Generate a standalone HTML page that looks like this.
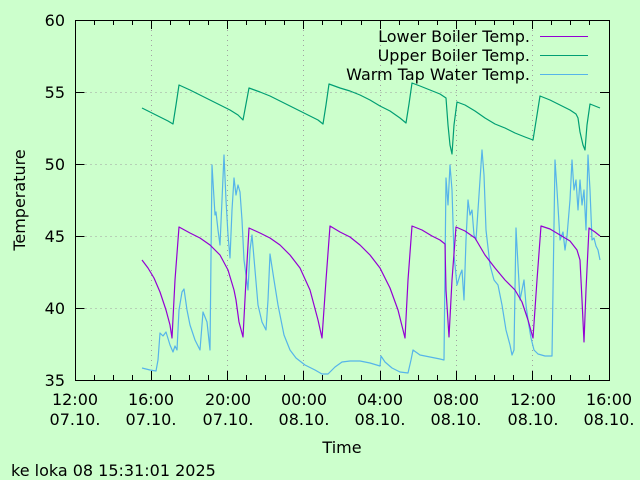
<!DOCTYPE html>
<html><head><meta charset="utf-8"><style>
html,body{margin:0;padding:0;background:#ccffcc;}
svg{display:block;font-family:"DejaVu Sans","Liberation Sans",sans-serif;}
</style></head><body>
<svg width="640" height="480" viewBox="0 0 640 480">
<rect width="640" height="480" fill="#ccffcc"/>
<g stroke="#a0a0a0" stroke-width="1" stroke-dasharray="1,4" fill="none">
<path d="M75.5 92.5H609M75.5 164.5H609M75.5 236.5H609M75.5 308.5H609"/>
<path d="M151.5 20V380M227.5 20V380M303.5 20V380M380.5 20V380M456.5 20V380M532.5 20V380"/>
</g>
<g stroke="#000" stroke-width="1" fill="none">
<rect x="75.5" y="20.5" width="534" height="360"/>
<path d="M75.5 92.5h9M75.5 164.5h9M75.5 236.5h9M75.5 308.5h9M609 92.5h-9M609 164.5h-9M609 236.5h-9M609 308.5h-9"/>
<path d="M151.5 380v-9M227.5 380v-9M303.5 380v-9M380.5 380v-9M456.5 380v-9M532.5 380v-9M151.5 20v9M227.5 20v9M303.5 20v9M380.5 20v9M456.5 20v9M532.5 20v9"/>
<path d="M94.5 380v-5M113.5 380v-5M132.5 380v-5M170.5 380v-5M189.5 380v-5M208.5 380v-5M246.5 380v-5M265.5 380v-5M284.5 380v-5M322.5 380v-5M341.5 380v-5M361.5 380v-5M399.5 380v-5M418.5 380v-5M437.5 380v-5M475.5 380v-5M494.5 380v-5M513.5 380v-5M551.5 380v-5M570.5 380v-5M589.5 380v-5
M94.5 20v5M113.5 20v5M132.5 20v5M170.5 20v5M189.5 20v5M208.5 20v5M246.5 20v5M265.5 20v5M284.5 20v5M322.5 20v5M341.5 20v5M361.5 20v5M399.5 20v5M418.5 20v5M437.5 20v5M475.5 20v5M494.5 20v5M513.5 20v5M551.5 20v5M570.5 20v5M589.5 20v5"/>
</g>
<g font-size="16" fill="#000" text-anchor="end">
<text x="65" y="26">60</text><text x="65" y="98">55</text><text x="65" y="170">50</text><text x="65" y="242">45</text><text x="65" y="314">40</text><text x="65" y="386">35</text>
</g>
<g font-size="16" fill="#000" text-anchor="middle">
<text x="75" y="405">12:00</text><text x="75" y="425">07.10.</text>
<text x="151" y="405">16:00</text><text x="151" y="425">07.10.</text>
<text x="228" y="405">20:00</text><text x="228" y="425">07.10.</text>
<text x="304" y="405">00:00</text><text x="304" y="425">08.10.</text>
<text x="380" y="405">04:00</text><text x="380" y="425">08.10.</text>
<text x="456" y="405">08:00</text><text x="456" y="425">08.10.</text>
<text x="533" y="405">12:00</text><text x="533" y="425">08.10.</text>
<text x="609" y="405">16:00</text><text x="609" y="425">08.10.</text>
<text x="342" y="453">Time</text>
<text transform="translate(25,200) rotate(-90)">Temperature</text>
</g>
<text x="11" y="476" font-size="16" fill="#000">ke loka 08 15:31:01 2025</text>
<g font-size="16" fill="#000" text-anchor="end">
<text x="530" y="42">Lower Boiler Temp.</text>
<text x="530" y="61">Upper Boiler Temp.</text>
<text x="530" y="80">Warm Tap Water Temp.</text>
</g>
<path d="M540 36.5h48" stroke="#9400d3"/>
<path d="M540 55.5h48" stroke="#009e73"/>
<path d="M540 74.5h48" stroke="#56b4e9"/>
<g fill="none" stroke-width="1.2" stroke-linejoin="round">
<polyline stroke="#56b4e9" points="142,368 150,370 156,371 158,360 160,333 163,336 166,332 170,345 173,352 175,346 177,350 179,310 182,292 184,289 187,310 190,325 195,340 200,350 203,312 207,322 210,350 212,165 215,215 216,212 218,230 220,245 222,200 224,155 226,200 228,235 230,258 232,210 234,178 236,195 238,185 240,192 242,220 244,260 248,290 250,250 252,235 255,270 258,305 262,322 266,330 268,300 270,254 274,280 278,305 284,335 290,350 296,358 305,365 315,370 322,374 328,374 335,367 342,362 350,361 360,361 370,363 380,366 381,356 385,362 392,368 400,372 408,373 411,360 413,350 420,355 430,357 440,359 444,360 446,178 448,205 450,165 452,190 454,255 457,285 460,275 462,270 464,300 466,240 468,200 470,215 472,210 474,235 476,240 479,195 482,150 484,175 486,230 490,265 494,280 498,285 502,305 506,330 510,345 512,355 514,350 516,228 518,265 520,300 522,290 524,280 526,305 528,320 531,338 534,350 538,354 545,356 552,356 555,160 557,190 560,240 563,232 565,250 567,236 570,200 572,160 574,190 576,180 578,210 580,180 582,205 584,190 586,230 588,155 590,190 592,240 594,238 596,246 598,250 600,260"/>
<polyline stroke="#009e73" points="142,108 150,112 160,117 168,121 173,124 176,105 179,85 190,90 200,95 210,100 220,105 230,110 238,115 243,120 246,104 249,88 260,92 270,96 280,101 290,106 300,111 310,116 318,120 323,124 326,105 329,84 340,88 350,91 360,95 370,100 380,106 390,111 400,118 406,123 409,104 412,83 420,86 430,90 440,94 446,98 448,125 450,145 452,154 454,125 457,102 465,105 475,111 485,118 495,124 505,128 515,133 525,137 533,140 537,115 540,96 550,100 560,105 570,110 576,114 578,118 580,132 583,145 585,150 587,125 590,104 595,106 600,108"/>
<polyline stroke="#9400d3" points="142,260 148,268 154,278 160,292 166,310 170,325 172,338 175,280 179,227 190,233 200,238 210,245 220,255 228,270 234,290 236,300 239,322 243,337 246,280 249,228 260,233 270,238 280,245 290,255 300,268 310,290 318,320 322,338 326,280 330,226 340,232 350,237 360,245 370,255 380,268 390,288 398,310 405,338 408,280 412,226 422,230 432,236 440,240 445,244 446,290 449,337 452,280 456,227 465,231 475,238 485,255 495,268 505,280 515,290 522,302 528,320 533,338 537,280 541,226 550,229 560,235 570,241 577,250 580,260 582,300 584,342 586,290 589,228 595,232 600,236"/>
</g>
</svg>
</body></html>
